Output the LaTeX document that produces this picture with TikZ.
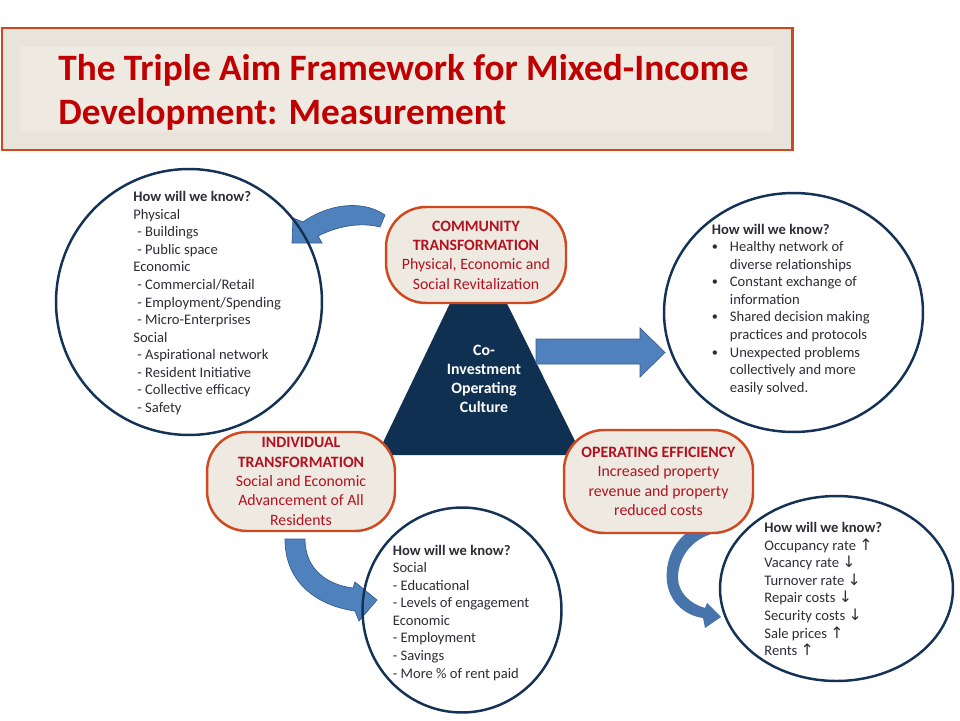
\documentclass[tikz,border=0pt]{standalone}
\usepackage{fontspec}
\setmainfont{Carlito}
\newfontfamily\arrowfont{DejaVu Sans}
\usetikzlibrary{positioning, shapes.geometric}

\definecolor{titlered}{RGB}{192,0,0}
\definecolor{boxred}{RGB}{178,18,32}
\definecolor{boxedge}{RGB}{210,72,30}
\definecolor{boxfill}{RGB}{238,234,225}
\definecolor{ringnavy}{RGB}{20,50,85}
\definecolor{trinavy}{RGB}{15,48,80}
\definecolor{arrowblue}{RGB}{79,129,189}
\definecolor{arrowedge}{RGB}{56,93,138}
\definecolor{knowgray}{RGB}{45,45,55}

\newcommand{\rateup}{{\arrowfont\small ↑}}
\newcommand{\ratedown}{{\arrowfont\small ↓}}
\newcommand{\knowbullet}{\makebox[10.3pt][l]{\raisebox{0.6pt}{\scriptsize\textbullet}}}
\newcommand{\knowindent}{\hspace*{10.3pt}}
\newcommand{\knowlead}{\hspace*{2.3pt}}

\begin{document}
\begin{tikzpicture}[x=0.02cm, y=-0.02cm,
    aimbox/.style={rectangle, rounded corners=0.8cm, draw=boxedge, fill=boxfill, line width=1.4pt, align=center, text=boxred, font=\fontsize{9}{11}\selectfont, inner sep=0pt},
    knowring/.style={draw=ringnavy, line width=1.4pt, inner sep=0pt},
    knowtext/.style={anchor=north west, align=left, text=knowgray, font=\fontsize{8.3}{10}\selectfont, inner sep=0pt},
    blockarrow/.style={fill=arrowblue, draw=arrowedge, line width=0.4pt},
]
\useasboundingbox (0,0) rectangle (960,720);
\fill[white] (0,0) rectangle (960,720);

% title
\draw[boxedge, fill=boxfill, line width=1.7pt] (2,28) rectangle (792,150);
\foreach \d in {1,2,...,18}
    \draw[black, opacity=0.012, line width=1.4pt] (2+\d,28+\d) rectangle (792-\d,150-\d);
\node[anchor=north west, align=left, text=titlered, inner sep=0pt,
    font=\fontsize{21.2}{24.8}\selectfont\bfseries] (title) at (58,54)
    {The Triple Aim Framework for Mixed-Income\\Development: Measurement};

% triangle and arrows
\fill[trinavy] (478,245) -- (582,455) -- (377,455) -- cycle;
\node[align=center, text=white, font=\fontsize{9}{10.8}\selectfont\bfseries] (culture) at (484,378.5)
    {Co-\\Investment\\Operating\\Culture};
\draw[blockarrow] (536,339) -- (640,339) -- (640,328) -- (665,352.5) -- (640,377) -- (640,364) -- (536,364) -- cycle;
\draw[blockarrow] (293,218) -- (303,222) .. controls (325,206) and (360,198) .. (385,215)
    -- (380,227) .. controls (360,222) and (338,226) .. (318,236) -- (322,243) -- (292,243) -- cycle;
\draw[blockarrow] (285,539) .. controls (285,585) and (320,606) .. (355,611) -- (359,621) -- (377,600)
    -- (355,582) -- (353,588) .. controls (328,585) and (305,570) .. (305,539) -- cycle;
\draw[blockarrow, fill=arrowblue!90!black, draw=none] (717,521) .. controls (680,525) and (664,555) .. (667,582)
    .. controls (670,605) and (688,616) .. (703,618) -- (705,628) -- (721,617) -- (707,603) -- (705,608)
    .. controls (690,604) and (678,592) .. (678,578) .. controls (678,555) and (695,535) .. (721,532) -- cycle;

% rings
\node[knowring, circle, minimum size=5.32cm] (commring) at (189,302) {};
\node[knowring, ellipse, minimum width=5.18cm, minimum height=4.78cm] (culturering) at (793.5,312.5) {};
\node[knowring, ellipse, minimum width=3.98cm, minimum height=4.1cm] (indring) at (462,610) {};
\node[knowring, ellipse, minimum width=4.66cm, minimum height=3.7cm] (effring) at (836.5,588.5) {};

% aims
\node[aimbox, minimum width=3.6cm, minimum height=1.92cm] (community) at (476,255)
    {\textbf{COMMUNITY}\\\textbf{TRANSFORMATION}\\Physical, Economic and\\Social Revitalization};
\node[aimbox, minimum width=3.76cm, minimum height=1.98cm] (individual) at (301,481.5)
    {\textbf{INDIVIDUAL}\\\textbf{TRANSFORMATION}\\Social and Economic\\Advancement of All\\Residents};
\node[aimbox, minimum width=3.78cm, minimum height=2.06cm] (efficiency) at (658.5,481.5)
    {\textbf{OPERATING EFFICIENCY}\\Increased property\\revenue and property\\reduced costs};

% how will we know
\node[knowtext] (commknow) at (133,191)
    {\textbf{How will we know?}\\Physical\\\knowlead- Buildings\\\knowlead- Public space\\Economic\\\knowlead- Commercial/Retail\\\knowlead- Employment/Spending\\\knowlead- Micro-Enterprises\\Social\\\knowlead- Aspirational network\\\knowlead- Resident Initiative\\\knowlead- Collective efficacy\\\knowlead- Safety};
\node[knowtext] (cultureknow) at (711.5,223.5)
    {\textbf{How will we know?}\\\knowbullet Healthy network of\\\knowindent diverse relationships\\\knowbullet Constant exchange of\\\knowindent information\\\knowbullet Shared decision making\\\knowindent practices and protocols\\\knowbullet Unexpected problems\\\knowindent collectively and more\\\knowindent easily solved.};
\node[knowtext] (indknow) at (392.5,544.5)
    {\textbf{How will we know?}\\Social\\- Educational\\- Levels of engagement\\Economic\\- Employment\\- Savings\\- More \% of rent paid};
\node[knowtext] (effknow) at (764,522)
    {\textbf{How will we know?}\\Occupancy rate \rateup\\Vacancy rate \ratedown\\Turnover rate \ratedown\\Repair costs \ratedown\\Security costs \ratedown\\Sale prices \rateup\\Rents \rateup};
\end{tikzpicture}
\end{document}
